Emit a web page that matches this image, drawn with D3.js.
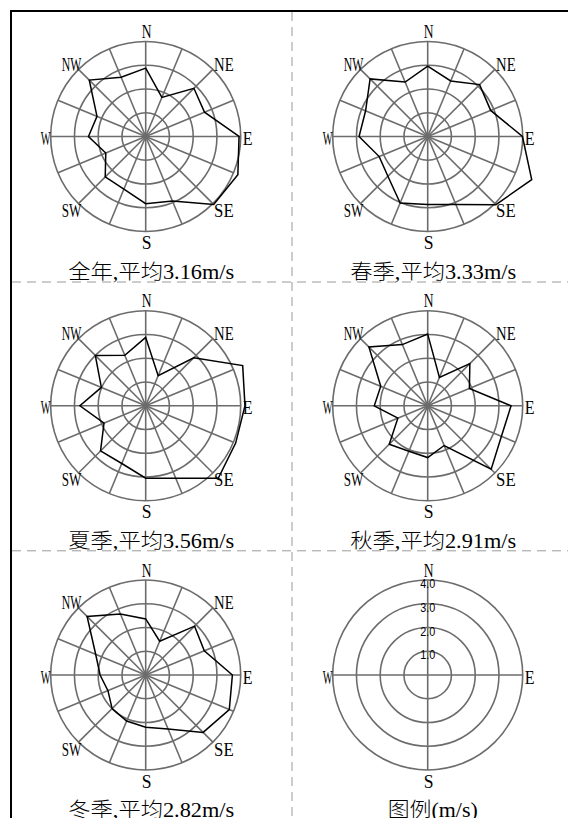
<!DOCTYPE html>
<html>
<head>
<meta charset="utf-8">
<script src="https://cdn.jsdelivr.net/npm/d3@7"></script>
<style>
  html, body { margin: 0; padding: 0; background: #fff; }
  svg { display: block; }
</style>
</head>
<body>
<svg id="chart" width="568" height="818"></svg>
<script>
// 16 compass directions, clockwise from north
const directions = ["N","NNE","NE","ENE","E","ESE","SE","SSE","S","SSW","SW","WSW","W","WNW","NW","NNW"];

// mean wind speed per direction (m/s)
const annualSpeed = [2.88, 1.78, 2.87, 2.68, 3.93, 4.20, 4.05, 2.94, 2.83, 2.40, 2.41, 1.82, 2.41, 2.22, 3.36, 2.70];
const springSpeed = [2.96, 2.53, 3.09, 2.87, 3.99, 4.74, 4.06, 3.10, 2.86, 3.03, 2.37, 2.21, 2.89, 2.83, 3.43, 2.48];
const summerSpeed = [2.88, 1.37, 2.86, 4.42, 4.18, 4.10, 4.32, 3.30, 3.05, 2.63, 2.69, 1.90, 2.77, 2.02, 3.00, 2.30];
const autumnSpeed = [3.02, 1.29, 2.51, 1.90, 3.51, 3.36, 3.78, 1.81, 2.18, 2.07, 2.29, 1.36, 2.25, 2.14, 3.50, 2.79];
const winterSpeed = [2.36, 1.54, 2.91, 2.67, 3.65, 3.81, 3.42, 2.46, 2.20, 2.10, 2.00, 1.72, 1.92, 2.28, 3.49, 2.78];

// panel titles
const panelTitles = ["全年,平均3.16m/s", "春季,平均3.33m/s", "夏季,平均3.56m/s", "秋季,平均2.91m/s", "冬季,平均2.82m/s"];
const legendTitle = "图例(m/s)";

// speed rings and their legend labels
const ringValues = [1, 2, 3, 4];
const ringLabels = ["1.0", "2.0", "3.0", "4.0"];

// compass labels drawn around each rose
const compassLabels = ["N", "NE", "E", "SE", "S", "SW", "W", "NW"];
const legendCompass = ["N", "E", "S", "W"];

const seriesList = [annualSpeed, springSpeed, summerSpeed, autumnSpeed, winterSpeed];

// ---- layout ----
const W = 568, H = 818;
const colX = [145.7, 427.7];
const rowY = [136.5, 405.8, 675];
const R = 95;
const GRID = "#6c6c6c";
const LATIN = "'Liberation Serif', 'DejaVu Serif', serif";
const MIXED = "'Liberation Serif', 'Noto Sans CJK SC', serif";

const svg = d3.select("#chart");

const r = d3.scaleLinear().domain([0, d3.max(ringValues)]).range([0, R]);
const angle = d3.scalePoint().domain(directions.concat(["_end"])).range([0, 2 * Math.PI]);

// ---- frame and dashed separators ----
const frame = svg.append("g");
frame.append("line").attr("x1", 11).attr("x2", W).attr("y1", 11).attr("y2", 11)
  .attr("stroke", "#000").attr("stroke-width", 2);
frame.append("line").attr("x1", 11).attr("x2", 11).attr("y1", 10).attr("y2", H)
  .attr("stroke", "#000").attr("stroke-width", 2);
frame.append("line").attr("x1", 292).attr("x2", 292).attr("y1", 12).attr("y2", H)
  .attr("stroke", "#9a9a9a").attr("stroke-width", 1).attr("stroke-dasharray", "9,6");
[rowY[0] + 145.5, rowY[1] + 145].forEach(y => {
  frame.append("line").attr("x1", 12).attr("x2", W).attr("y1", y).attr("y2", y)
    .attr("stroke", "#9a9a9a").attr("stroke-width", 1).attr("stroke-dasharray", "9,6");
});

// places a compass label outside the outer ring
function labelPos(name) {
  const d = R * Math.SQRT1_2;
  switch (name) {
    case "N":  return [0, -R - 10];
    case "S":  return [0, R + 11];
    case "E":  return [R + 6, 2];
    case "W":  return [-R - 6, 2];
    case "NE": return [d + 10, -d - 5];
    case "NW": return [-d - 8, -d - 5];
    case "SE": return [d + 10, d + 7];
    case "SW": return [-d - 8, d + 7];
  }
}

function drawCompassLabels(g, names) {
  g.selectAll("text.compass").data(names).join("text")
    .attr("class", "compass")
    .attr("x", d => labelPos(d)[0] + 1)
    .attr("y", d => labelPos(d)[1])
    .attr("text-anchor", "middle")
    .attr("dominant-baseline", "central")
    .attr("font-family", LATIN)
    .attr("font-size", 19)
    .attr("textLength", d => d.length * 9.8)
    .attr("lengthAdjust", "spacingAndGlyphs")
    .attr("fill", "#000")
    .text(d => d);
}

function drawRings(g) {
  g.selectAll("circle.ring").data(ringValues).join("circle")
    .attr("class", "ring")
    .attr("r", d => r(d))
    .attr("fill", "none")
    .attr("stroke", GRID)
    .attr("stroke-width", 1.6);
}

// ---- wind rose panels ----
const radialLine = d3.lineRadial()
  .angle((d, i) => angle(directions[i]))
  .radius(d => r(d))
  .curve(d3.curveLinearClosed);

seriesList.forEach((values, k) => {
  const cx = colX[k % 2], cy = rowY[Math.floor(k / 2)];
  const g = svg.append("g").attr("transform", `translate(${cx},${cy})`);

  drawRings(g);

  // 16 spokes
  g.selectAll("line.spoke").data(directions).join("line")
    .attr("class", "spoke")
    .attr("x1", 0).attr("y1", 0)
    .attr("x2", d => R * Math.sin(angle(d)))
    .attr("y2", d => -R * Math.cos(angle(d)))
    .attr("stroke", GRID)
    .attr("stroke-width", 1.6);

  // speed polygon
  g.append("path")
    .datum(values)
    .attr("d", radialLine)
    .attr("fill", "none")
    .attr("stroke", "#000")
    .attr("stroke-width", 1.5)
    .attr("stroke-linejoin", "miter");

  drawCompassLabels(g, compassLabels);

  g.append("text")
    .attr("x", 5.5).attr("y", 135)
    .attr("text-anchor", "middle")
    .attr("dominant-baseline", "central")
    .attr("font-family", MIXED)
    .attr("font-size", 20)
    .attr("font-weight", 300)
    .attr("textLength", 166)
    .attr("lengthAdjust", "spacingAndGlyphs")
    .attr("fill", "#000")
    .text(panelTitles[k]);
});

// ---- legend panel ----
{
  const cx = colX[1], cy = rowY[2];
  const g = svg.append("g").attr("transform", `translate(${cx},${cy})`);
  drawRings(g);
  g.selectAll("line.axis").data(["N", "E"]).join("line")
    .attr("class", "axis")
    .attr("x1", d => -R * Math.sin(angle(d)))
    .attr("y1", d => R * Math.cos(angle(d)))
    .attr("x2", d => R * Math.sin(angle(d)))
    .attr("y2", d => -R * Math.cos(angle(d)))
    .attr("stroke", GRID)
    .attr("stroke-width", 1.6);

  g.selectAll("text.ringlabel").data(ringValues).join("text")
    .attr("class", "ringlabel")
    .attr("x", 0)
    .attr("y", d => -r(d) + 3.5)
    .attr("text-anchor", "middle")
    .attr("dominant-baseline", "central")
    .attr("font-family", "'Liberation Sans', Arial, sans-serif")
    .attr("font-size", 13)
    .attr("textLength", 15)
    .attr("lengthAdjust", "spacingAndGlyphs")
    .attr("fill", "#000")
    .text((d, i) => ringLabels[i]);

  drawCompassLabels(g, legendCompass);

  g.append("text")
    .attr("x", 5).attr("y", 135)
    .attr("text-anchor", "middle")
    .attr("dominant-baseline", "central")
    .attr("font-family", MIXED)
    .attr("font-size", 20)
    .attr("font-weight", 300)
    .attr("textLength", 90)
    .attr("lengthAdjust", "spacingAndGlyphs")
    .attr("fill", "#000")
    .text(legendTitle);
}
</script>
</body>
</html>
